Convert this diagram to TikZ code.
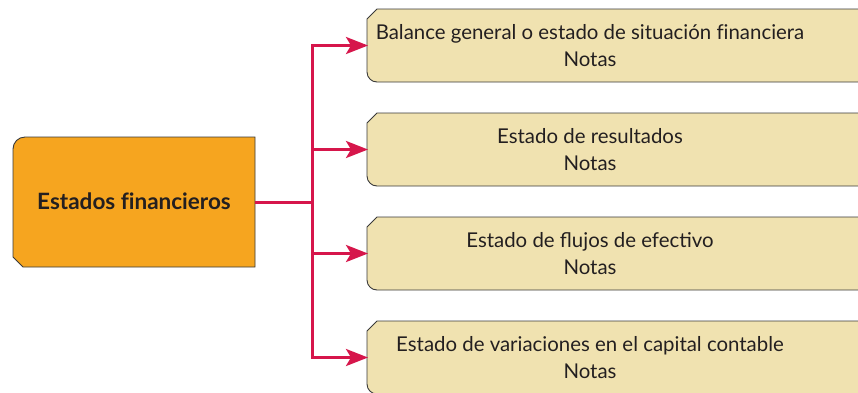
\documentclass[tikz,border=0pt]{standalone}
\usepackage{fontspec}
\setmainfont{Lato}
\usetikzlibrary{arrows.meta}
\definecolor{orangefill}{HTML}{F6A51F}
\definecolor{beige}{HTML}{F0E2B0}
\definecolor{linered}{HTML}{D6164B}
\definecolor{edge}{HTML}{3A3A3A}
\definecolor{ink}{HTML}{231F20}
\tikzset{
  geom/.style={draw=none, inner sep=0pt, outer sep=0pt, minimum width=#1, minimum height=73pt},
  boxline/.style={draw=edge, line width=0.9pt},
  txt/.style={text=ink, font=\fontsize{20.4}{27}\selectfont, align=center, inner sep=0pt},
  maintxt/.style={text=ink, font=\fontsize{22.5}{26}\selectfont\bfseries, inner sep=0pt},
  conn/.style={draw=linered, line width=3pt},
  arr/.style={conn, -{Stealth[length=22pt,width=17pt,inset=5pt]}, shorten >=-1pt},
}
\newcommand\cutbox[1]{%
  \path[boxline, fill=beige] ([yshift=-10pt]#1.north west) -- ([xshift=10pt]#1.north west) -- (#1.north east) -- (#1.south east) -- ([xshift=10pt]#1.south west) arc[start angle=270,end angle=180,radius=10pt] -- cycle;}
\begin{document}
\begin{tikzpicture}[x=1pt,y=-1pt]
\useasboundingbox (0,0) rectangle (858,392);
\clip (0,0) rectangle (858,392);
% geometry nodes
\node[draw=none, inner sep=0pt, outer sep=0pt, minimum width=242pt, minimum height=130pt] (m) at (134,202) {};
\node[geom=533pt] (b1) at (633.5,45.5) {};
\node[geom=533pt] (b2) at (633.5,149.5) {};
\node[geom=533pt] (b3) at (633.5,253.5) {};
\node[geom=533pt] (b4) at (633.5,357.5) {};
% shapes
\path[boxline, fill=orangefill] ([yshift=-12pt]m.north west) arc[start angle=180,end angle=90,radius=12pt] -- (m.north east) -- (m.south east) -- ([xshift=10pt]m.south west) -- ([yshift=10pt]m.south west) -- cycle;
\cutbox{b1}\cutbox{b2}\cutbox{b3}\cutbox{b4}
% texts
\node[maintxt] (mt) at (134,201) {Estados f\kern0ptinancieros};
\node[txt] (t1) at (590,45.5) {Balance general o estado de situación f\kern0ptinanciera\\Notas};
\node[txt] (t2) at (590,149.5) {Estado de resultados\\Notas};
\node[txt] (t3) at (590,253.5) {Estado de flujos de efectivo\\Notas};
\node[txt] (t4) at (590,357.5) {Estado de variaciones en el capital contable\\Notas};
% connectors
\coordinate (j) at (312,202);
\draw[conn] (m.east) -- (j);
\draw[arr] (j) |- (b1.west);
\draw[arr] (j) |- (b2.west);
\draw[arr] (j) |- (b3.west);
\draw[arr] (j) |- (b4.west);
\end{tikzpicture}
\end{document}
